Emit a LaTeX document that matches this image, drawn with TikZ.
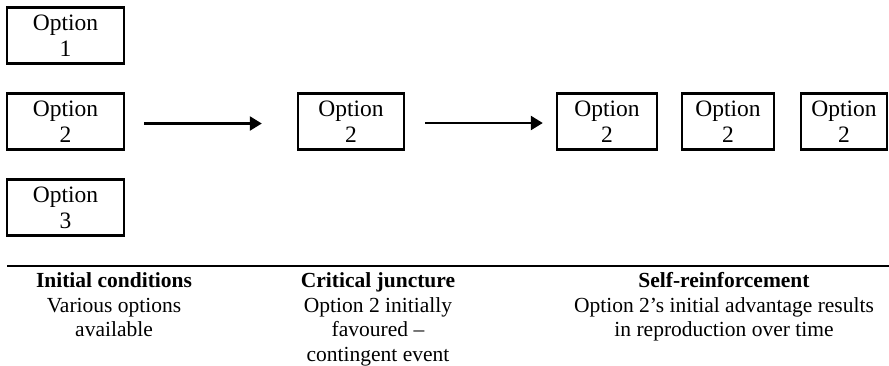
\documentclass[tikz,border=0pt]{standalone}
\usepackage{fontspec}
\setmainfont{Liberation Serif}
\usetikzlibrary{arrows.meta}
\begin{document}
\begin{tikzpicture}[x=1pt,y=-1pt,
  optbox/.style={draw=black, line width=2.4pt, minimum height=56pt, inner sep=0pt,
    align=center, font=\fontsize{23.5}{26}\selectfont},
  flow/.style={line width=2.4pt, -{Triangle[length=12pt,width=14pt]}},
  caption/.style={anchor=north, inner sep=0pt, align=center,
    font=\fontsize{21.5}{24.5}\selectfont}]
\useasboundingbox (0,0) rectangle (889,365);
% left column
\node[optbox, minimum width=117pt] (L1) at (65.5,35.5) {Option\\1};
\node[optbox, minimum width=117pt] (L2) at (65.5,121.5) {Option\\2};
\node[optbox, minimum width=117pt] (L3) at (65.5,207.5) {Option\\3};
% middle
\node[optbox, minimum width=106pt] (M) at (351,121.5) {Option\\2};
% right
\node[optbox, minimum width=100pt] (A) at (607,121.5) {Option\\2};
\node[optbox, minimum width=92pt] (B) at (728,121.5) {Option\\2};
\node[optbox, minimum width=86pt] (C) at (844,121.5) {Option\\2};
% arrows
\draw[flow, shorten <=19pt, shorten >=35pt] ([yshift=-2pt]L2.east) -- ([yshift=-2pt]M.west);
\draw[flow, shorten <=20pt, shorten >=13pt] ([yshift=-1.5pt]M.east) -- ([yshift=-1.5pt]A.west);
% rule
\coordinate (r1) at (7,266);
\coordinate (r2) at (889,266);
\draw[line width=2.4pt] (r1) -- (r2);
% captions
\node[caption] (t1) at (114,272.5) {\textbf{Initial conditions}\\Various options\\available};
\node[caption] (t2) at (378,272.5) {\textbf{Critical juncture}\\Option 2 initially\\favoured –\\contingent event};
\node[caption] (t3) at (724,272.5) {\textbf{Self-reinforcement}\\Option 2’s initial advantage results\\in reproduction over time};
\end{tikzpicture}
\end{document}
